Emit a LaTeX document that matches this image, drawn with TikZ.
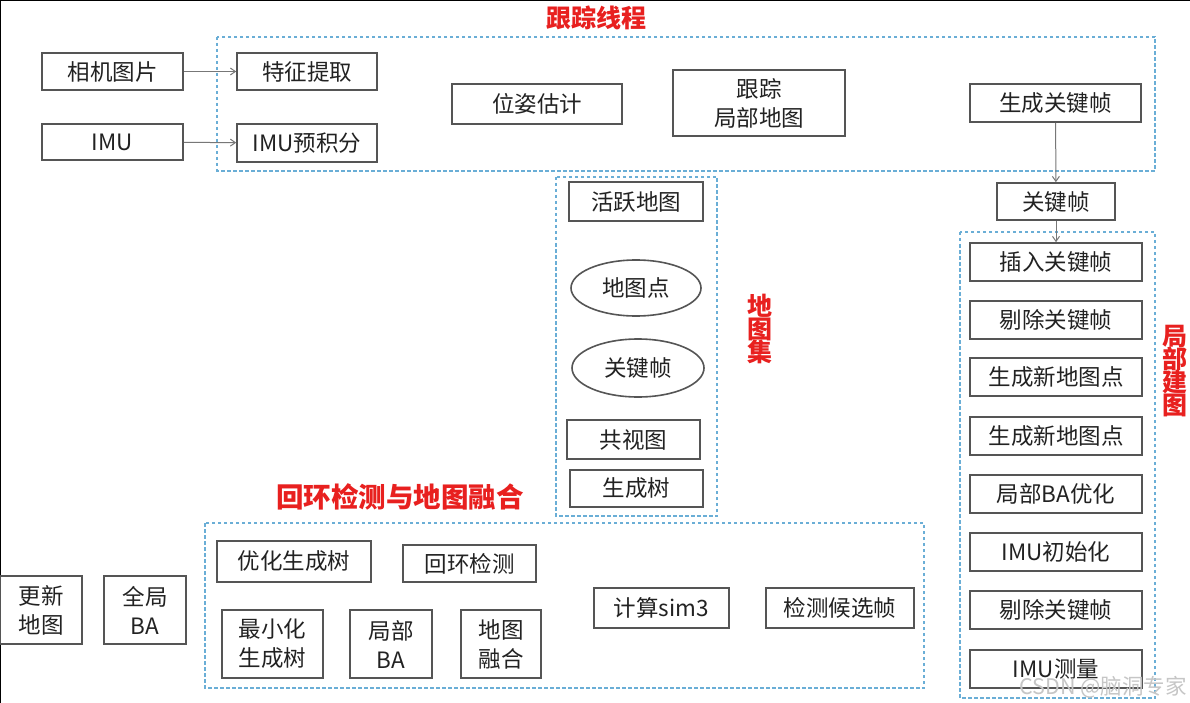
\documentclass[tikz,border=0pt]{standalone}
\usepackage{fontspec}
\setmainfont{Noto Sans CJK SC}
\usetikzlibrary{shapes.geometric,arrows.meta}
\definecolor{boxline}{HTML}{555555}
\definecolor{boxtext}{HTML}{222222}
\definecolor{dashblue}{HTML}{6AAED6}
\definecolor{titlered}{HTML}{E8201F}
\tikzset{
  box/.style={draw=boxline, line width=1.6pt, text=boxtext, fill=white, inner sep=0pt,
    align=center, font=\fontsize{22.5}{29}\selectfont},
  ell/.style={box, ellipse},
  group/.style={draw=dashblue, line width=1.3pt, dash pattern=on 3.5pt off 2.5pt},
  title/.style={text=titlered, font=\fontsize{25}{27}\selectfont\bfseries, inner sep=0pt, align=center},
  conn/.style={draw=boxline!80, line width=1pt, -{Straight Barb[length=5pt,width=7pt]}},
}
\begin{document}
\begin{tikzpicture}[x=1pt,y=-1pt]
\useasboundingbox (0,0) rectangle (1190,703);
\fill[white] (0,0) rectangle (1190,703);
\draw[line width=2.5pt] (0,703) -- (0,0) -- (1190,0);

% group frames
\draw[group] (217,37) rectangle (1155,171);
\draw[group] (556,177) rectangle (717,516);
\draw[group] (960,232) rectangle (1155,698);
\draw[group] (205,523) rectangle (924,688);

% titles
\node[title] (t1) at (596,18) {跟踪线程};
\node[title] (t2) at (760,329) {地\\[-4pt]图\\[-4pt]集};
\node[title] (t3) at (1175,371) {局\\[-4pt]部\\[-4pt]建\\[-4pt]图};
\node[title, font=\fontsize{27.5}{29}\selectfont\bfseries] (t4) at (400,497) {回环检测与地图融合};

% tracking
\node[box, minimum width=141, minimum height=37] (cam) at (112.5,71.5) {相机图片};
\node[box, minimum width=141, minimum height=36] (imu) at (112.5,142) {IMU};
\node[box, minimum width=140, minimum height=37] (feat) at (307,71.5) {特征提取};
\node[box, minimum width=140, minimum height=38] (pre) at (307,143) {IMU预积分};
\node[box, minimum width=170, minimum height=40] (pose) at (537,104) {位姿估计};
\node[box, minimum width=172, minimum height=66] (trk) at (759,103) {跟踪\\局部地图};
\node[box, minimum width=171, minimum height=38] (genkf) at (1055.5,103) {生成关键帧};
\node[box, minimum width=118, minimum height=37] (kf) at (1056,201.5) {关键帧};

% atlas
\node[box, minimum width=134, minimum height=39] (act) at (636,201.5) {活跃地图};
\node[ell, minimum width=130, minimum height=56] (mp) at (636,288) {地图点};
\node[ell, minimum width=132, minimum height=58] (kfe) at (638,368) {关键帧};
\node[box, minimum width=133, minimum height=39] (cov) at (633.5,439.5) {共视图};
\node[box, minimum width=133, minimum height=37] (st) at (636.5,488.5) {生成树};

% local mapping
\node[box, minimum width=172, minimum height=38] (lm1) at (1056,262) {插入关键帧};
\node[box, minimum width=172, minimum height=38] (lm2) at (1056,320) {剔除关键帧};
\node[box, minimum width=172, minimum height=38] (lm3) at (1056,377) {生成新地图点};
\node[box, minimum width=172, minimum height=38] (lm4) at (1056,436) {生成新地图点};
\node[box, minimum width=172, minimum height=38] (lm5) at (1056,494) {局部BA优化};
\node[box, minimum width=172, minimum height=38] (lm6) at (1056,552) {IMU初始化};
\node[box, minimum width=172, minimum height=38] (lm7) at (1056,610) {剔除关键帧};
\node[box, minimum width=172, minimum height=38] (lm8) at (1056,669) {IMU测量};

% loop closing
\node[box, minimum width=154, minimum height=41] (opt) at (294,561.5) {优化生成树};
\node[box, minimum width=133, minimum height=37] (ldet) at (469.5,563.5) {回环检测};
\node[box, minimum width=101, minimum height=68] (mst) at (272.5,644) {最小化\\生成树};
\node[box, minimum width=82, minimum height=68] (lba) at (391,644) {局部\\BA};
\node[box, minimum width=80, minimum height=68] (mrg) at (501,644) {地图\\融合};
\node[box, minimum width=135, minimum height=40] (sim) at (661.5,608) {计算sim3};
\node[box, minimum width=148, minimum height=40] (cand) at (840,608) {检测候选帧};
\node[box, minimum width=82, minimum height=68] (upd) at (41,610) {更新\\地图};
\node[box, minimum width=82, minimum height=68] (gba) at (145,610) {全局\\BA};

% connectors
\draw[conn] (cam) -- (feat);
\draw[conn] (imu) -- (pre);
\draw[conn] (genkf) -- (kf);
\draw[conn] (kf) -- (lm1);

% watermark
\node[text=gray!45, font=\fontsize{21.5}{23}\selectfont, inner sep=0pt, anchor=east] (wm) at (1187,687) {CSDN @脑洞专家};
\end{tikzpicture}
\end{document}
